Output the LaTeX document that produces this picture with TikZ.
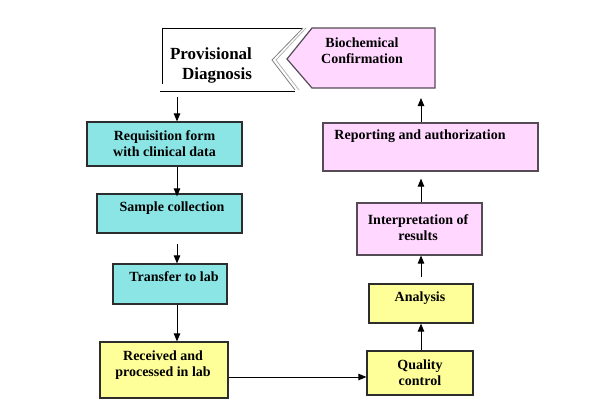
\documentclass[tikz,border=0pt]{standalone}
\usepackage{fontspec}
\setmainfont{Liberation Serif}[BoldFont={Liberation Serif Bold}]
\usetikzlibrary{arrows.meta}
\definecolor{labcyan}{RGB}{140,229,229}
\definecolor{labpink}{RGB}{255,215,255}
\definecolor{labyellow}{RGB}{255,255,153}
\definecolor{labedge}{RGB}{45,45,45}
\definecolor{labpinkedge}{RGB}{85,75,85}
\begin{document}
\begin{tikzpicture}[
  x=1pt, y=-1pt,
  labbox/.style = {draw=labedge, line width=1.2pt, inner sep=0pt},
  labcyanbox/.style = {labbox, fill=labcyan},
  labyellowbox/.style = {labbox, fill=labyellow},
  labpinkbox/.style = {labbox, draw=labpinkedge, fill=labpink},
  labtxt/.style = {align=center, inner sep=0pt,
    font=\fontsize{14}{16}\selectfont\bfseries},
  labarr/.style = {-{Triangle[length=8pt,width=6.5pt]}, line width=0.9pt, black}
]
  \useasboundingbox (0,0) rectangle (600,416);
  % provisional diagnosis (open frame with notch)
  \draw[line width=0.9pt] (162,84) -- (162,28) -- (303,28);
  \draw[line width=0.9pt] (160,91) -- (295,91);
  \draw[gray!60, line width=0.8pt] (306,28) -- (276,60) -- (299,90);
  \draw[gray, line width=0.8pt] (303,28) -- (272,60) -- (295,90);
  \node[labtxt, font=\fontsize{17}{20}\selectfont\bfseries] (prov) at (211,65)
    {Provisional\\\hspace*{12pt}Diagnosis};
  \coordinate (provbot) at (177,97);
  % biochemical confirmation
  \draw[labpinkbox] (287,59) -- (312,28) -- (435,28) -- (435,88) -- (312,88) -- cycle;
  \node[labtxt] (bio) at (362,51) {Biochemical\\Confirmation};
  \coordinate (biobot) at (421,88);
  % left column
  \node[labcyanbox, minimum width=155pt, minimum height=44pt] (req) at (164.5,144) {};
  \node[labtxt] (reqtxt) at (req) {Requisition form\\with clinical data};
  \node[labcyanbox, minimum width=145pt, minimum height=39pt] (sample) at (169.5,213.5) {};
  \node[labtxt] (sampletxt) at (172,208) {Sample collection};
  \node[labcyanbox, minimum width=114pt, minimum height=40pt] (transfer) at (170,284) {};
  \node[labtxt] (transfertxt) at (174,277) {Transfer to lab};
  \node[labyellowbox, minimum width=128pt, minimum height=56pt] (recv) at (164,370) {};
  \node[labtxt] (recvtxt) at (163,365) {Received and\\processed in lab};
  % right column
  \node[labyellowbox, minimum width=106pt, minimum height=44pt] (qc) at (420,373) {};
  \node[labtxt] (qctxt) at (qc) {Quality\\control};
  \node[labyellowbox, minimum width=104pt, minimum height=39pt] (ana) at (421,303.5) {};
  \node[labtxt] (anatxt) at (420,298) {Analysis};
  \node[labpinkbox, minimum width=125pt, minimum height=52pt] (interp) at (419.5,229) {};
  \node[labtxt] (interptxt) at (418,227.5) {Interpretation of\\results};
  \node[labpinkbox, minimum width=215pt, minimum height=48pt] (report) at (430.5,147) {};
  \node[labtxt] (reporttxt) at (420,136) {Reporting and authorization};
  % connectors
  \draw[labarr] (provbot) -- (provbot |- req.north);
  \draw[labarr] (provbot |- req.south) -- ([yshift=-3pt]provbot |- sample.north);
  \draw[labarr, shorten <=10pt] (provbot |- sample.south) -- (provbot |- transfer.north);
  \draw[labarr] (provbot |- transfer.south) -- (provbot |- recv.north);
  \draw[labarr] (recv.east |- 0,377) -- (qc.west |- 0,377);
  \draw[labarr] (biobot |- qc.north) -- (biobot |- ana.south);
  \draw[labarr, shorten <=6pt] (biobot |- ana.north) -- (biobot |- interp.south);
  \draw[labarr, shorten >=7pt] (biobot |- interp.north) -- (biobot |- report.south);
  \draw[labarr, shorten >=10pt] (biobot |- report.north) -- (biobot);
\end{tikzpicture}
\end{document}
